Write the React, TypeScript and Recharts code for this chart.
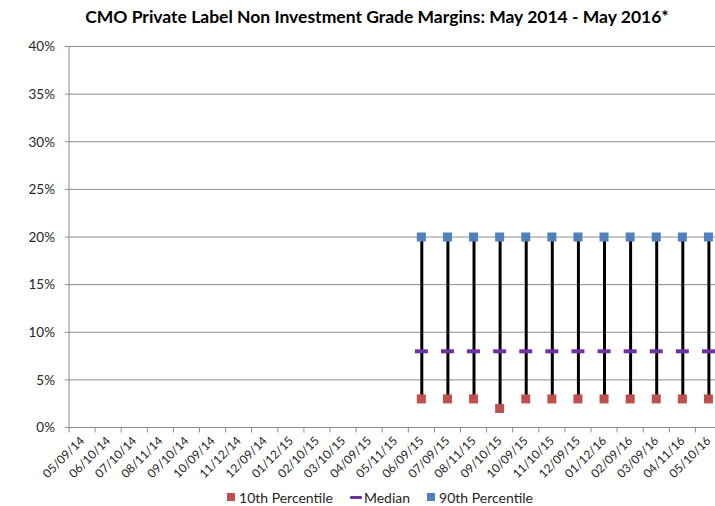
import { ComposedChart, XAxis, YAxis, Line, Bar, CartesianGrid, Legend } from "recharts";

const dates = [
    "05/09/14", "06/10/14", "07/10/14", "08/11/14", "09/10/14", "10/09/14", "11/12/14",
    "12/09/14", "01/12/15", "02/10/15", "03/10/15", "04/09/15", "05/11/15", "06/09/15",
    "07/09/15", "08/11/15", "09/10/15", "10/09/15", "11/10/15", "12/09/15", "01/12/16",
    "02/09/16", "03/09/16", "04/11/16", "05/10/16",
];

// percent values, null where nothing was reported
const p10 = [null, null, null, null, null, null, null, null, null, null, null, null, null,
    3, 3, 3, 2, 3, 3, 3, 3, 3, 3, 3, 3];
const median = [null, null, null, null, null, null, null, null, null, null, null, null, null,
    8, 8, 8, 8, 8, 8, 8, 8, 8, 8, 8, 8];
const p90 = [null, null, null, null, null, null, null, null, null, null, null, null, null,
    20, 20, 20, 20, 20, 20, 20, 20, 20, 20, 20, 20];

const yTicks = [0, 5, 10, 15, 20, 25, 30, 35, 40];

const legendItems = [
    { key: "p10", label: "10th Percentile", color: "#C0504D", shape: "square" },
    { key: "median", label: "Median", color: "#7030A0", shape: "dash" },
    { key: "p90", label: "90th Percentile", color: "#4F81BD", shape: "square" },
];

const data = dates.map((d, i) => ({ date: d, p10: p10[i], median: median[i], p90: p90[i] }));

const W = 730;
const H = 506;
const LEFT = 69;
const RIGHT = 8.5;
const BAND = (W - LEFT - RIGHT) / dates.length;
const FONT = "Lato, 'Liberation Sans', sans-serif";

function Square(color: string) {
    return (props: any) => {
        const { cx, cy, index } = props;
        if (cx == null || cy == null || props.value == null) return <g key={index} />;
        return <rect key={index} x={cx - 4.5} y={cy - 4.5} width={9} height={9} fill={color} />;
    };
}

function Dash(props: any) {
    const { cx, cy, index } = props;
    if (cx == null || cy == null || props.value == null) return <g key={index} />;
    return <rect key={index} x={cx - 6.5} y={cy - 2} width={13} height={4} fill="#7030A0" />;
}

function DateTick({ x, y, payload }: any) {
    const px = x + 3;
    const py = y + 14;
    return (
        <g>
            <line x1={x - BAND / 2} y1={y} x2={x - BAND / 2} y2={y + 5} stroke="#8c8c8c" />
            <text x={px} y={py} transform={`rotate(-45, ${px}, ${py})`}
                textAnchor="end" fontSize={12} fill="#262626" fontFamily={FONT}>
                {payload.value}
            </text>
        </g>
    );
}

function LegendBox() {
    return (
        <div style={{ display: "flex", justifyContent: "center", gap: 17, height: 18, fontFamily: FONT, fontSize: 14, color: "#262626" }}>
            {legendItems.map(it => (
                <div key={it.key} style={{ display: "flex", alignItems: "center" }}>
                    {it.shape === "square"
                        ? <span style={{ width: 8, height: 8, background: it.color, marginRight: 4 }} />
                        : <span style={{ width: 12, height: 3, background: it.color, marginRight: 2, borderRadius: 1 }} />}
                    <span>{it.label}</span>
                </div>
            ))}
        </div>
    );
}

export default function App() {
    return (
        <div style={{ position: "relative", width: 715, height: 506, overflow: "hidden", background: "#fff" }}>
            <style>{`body{margin:0;overflow:hidden}`}</style>
            <div style={{
                position: "absolute", top: 6, left: 0, width: 754, textAlign: "center",
                fontFamily: FONT, fontWeight: 700, fontSize: 17.5, color: "#000",
            }}>
                CMO Private Label Non Investment Grade Margins: May 2014 - May 2016*
            </div>
            <ComposedChart width={W} height={H} data={data}
                margin={{ top: 46.5, right: RIGHT, bottom: 0, left: 0 }}>
                <CartesianGrid vertical={false} stroke="#8c8c8c" />
                <XAxis dataKey="date" interval={0} tickLine={false} tickSize={0} tickMargin={0}
                    height={60.5} stroke="#8c8c8c" tick={<DateTick />} />
                <YAxis width={LEFT} domain={[0, 40]} ticks={yTicks} tickFormatter={v => `${v}%`}
                    stroke="#8c8c8c" tickSize={4} tickMargin={10}
                    tick={{ fill: "#262626", fontSize: 13.5, fontFamily: FONT }} />
                <Bar dataKey={(d: any) => (d.p10 == null ? null : [d.p10, d.p90])} barSize={3}
                    fill="#000" legendType="none" isAnimationActive={false} />
                <Line dataKey="p10" stroke="none" dot={Square("#C0504D")} activeDot={false} isAnimationActive={false} />
                <Line dataKey="median" stroke="none" dot={Dash} activeDot={false} isAnimationActive={false} />
                <Line dataKey="p90" stroke="none" dot={Square("#4F81BD")} activeDot={false} isAnimationActive={false} />
                <Legend verticalAlign="bottom" content={<LegendBox />}
                    wrapperStyle={{ left: 0, width: 760, bottom: 0 }} />
            </ComposedChart>
        </div>
    );
}
